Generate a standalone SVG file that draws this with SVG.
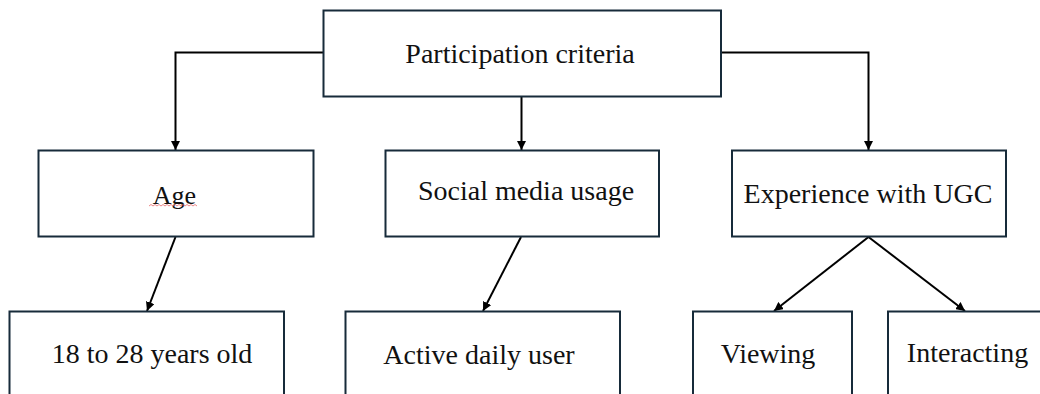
<svg xmlns="http://www.w3.org/2000/svg" width="1040" height="394" viewBox="0 0 1040 394">
  <style>
    .box { fill: #ffffff; stroke: #172b3a; stroke-width: 2; }
    .lbl { font-family: "Liberation Serif", "Times New Roman", serif; font-size: 28px; fill: #111111; text-anchor: middle; }
    .conn { fill: none; stroke: #000000; stroke-width: 2; }
  </style>
  <defs>
    <marker id="arrow" viewBox="0 0 10 10" refX="10" refY="5" markerWidth="9" markerHeight="9" markerUnits="userSpaceOnUse" orient="auto">
      <path d="M0,0 L10,5 L0,10 Z" fill="#000000"/>
    </marker>
  </defs>
  <rect width="1040" height="394" fill="#ffffff"/>

  <g id="connectors">
    <path class="conn" d="M323.5,52.5 H175.5 V150" marker-end="url(#arrow)"/>
    <path class="conn" d="M521.5,96.5 V150" marker-end="url(#arrow)"/>
    <path class="conn" d="M721,52.5 H868.5 V150" marker-end="url(#arrow)"/>
    <path class="conn" d="M175.5,237 L147,311" marker-end="url(#arrow)"/>
    <path class="conn" d="M521,237 L483,311" marker-end="url(#arrow)"/>
    <path class="conn" d="M868.5,237 L774,311" marker-end="url(#arrow)"/>
    <path class="conn" d="M868.5,237 L965,311" marker-end="url(#arrow)"/>
  </g>

  <g id="node-participation">
    <rect class="box" x="323.5" y="10.5" width="397.5" height="86"/>
    <text class="lbl" x="520" y="63">Participation criteria</text>
  </g>

  <g id="node-age">
    <rect class="box" x="38.5" y="150.5" width="275" height="86"/>
    <text class="lbl" x="174.5" y="204" style="font-size:26px">Age</text>
    <path d="M149,206 l2,-1.5 l2,1.5 l2,-1.5 l2,1.5 l2,-1.5 l2,1.5 l2,-1.5 l2,1.5 l2,-1.5 l2,1.5 l2,-1.5 l2,1.5 l2,-1.5 l2,1.5 l2,-1.5 l2,1.5 l2,-1.5 l2,1.5 l2,-1.5 l2,1.5 l2,-1.5 l2,1.5 l2,-1.5 l2,1.5" fill="none" stroke="#e86a6a" stroke-width="0.8"/>
  </g>

  <g id="node-social">
    <rect class="box" x="385.5" y="150.5" width="273.5" height="86"/>
    <text class="lbl" x="526" y="200">Social media usage</text>
  </g>

  <g id="node-experience">
    <rect class="box" x="732" y="150.5" width="274" height="86"/>
    <text class="lbl" x="868" y="203">Experience with UGC</text>
  </g>

  <g id="node-age-range">
    <rect class="box" x="9.5" y="311.5" width="274.5" height="100"/>
    <text class="lbl" x="152" y="363">18 to 28 years old</text>
  </g>

  <g id="node-active">
    <rect class="box" x="345.5" y="311.5" width="274.5" height="100"/>
    <text class="lbl" x="479" y="364">Active daily user</text>
  </g>

  <g id="node-viewing">
    <rect class="box" x="693" y="311.5" width="159" height="100"/>
    <text class="lbl" x="768" y="363">Viewing</text>
  </g>

  <g id="node-interacting">
    <rect class="box" x="888" y="311.5" width="200" height="100"/>
    <text class="lbl" x="967.5" y="362">Interacting</text>
  </g>
</svg>
